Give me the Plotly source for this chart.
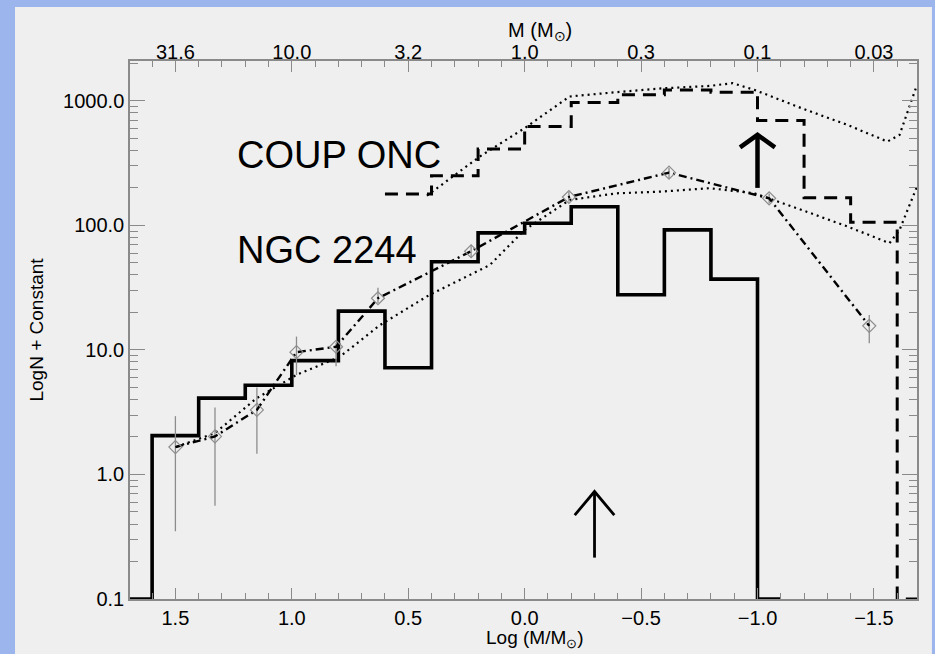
import numpy as np
import plotly.graph_objects as go

# ---------------- data ----------------
# NGC 2244 histogram (solid): bin left edges in log(M/Msun), counts
ngc_edges = [1.6, 1.4, 1.2, 1.0, 0.8, 0.6, 0.4, 0.2, 0.0, -0.2, -0.4, -0.6, -0.8]
ngc_counts = [2.05, 4.1, 5.2, 8.2, 20.5, 7.2, 51, 87, 104, 141, 27.7, 92, 37]

# COUP ONC histogram (dashed)
onc_edges = [0.6, 0.4, 0.2, 0.0, -0.2, -0.4, -0.6, -0.8, -1.0, -1.2, -1.4]
onc_counts = [179, 250, 411, 622, 968, 1117, 1225, 1175, 695, 167, 106]

# model curve for ONC (upper dotted)
onc_model_x = [0.42, 0.193, 0.0, -0.193, -0.395, -0.592, -0.794, -0.893, -0.987,
               -1.19, -1.386, -1.558, -1.61, -1.685]
onc_model_y = [173, 357, 604, 1084, 1175, 1260, 1318, 1387, 1225,
               872, 641, 471, 533, 1343]

# model curve for NGC 2244 (lower dotted)
ngc_model_x = [1.495, 1.33, 1.151, 0.98, 0.794, 0.622, 0.408, 0.15, 0.0, -0.193,
               -0.395, -0.592, -0.794, -0.987, -1.19, -1.386, -1.567, -1.61, -1.685]
ngc_model_y = [1.67, 2.15, 4.1, 6.3, 8.8, 15.8, 27.7, 48, 92, 160,
               181, 187, 199, 181, 133, 98, 72, 92, 205]

# comparison points with error bars (dash-dot, diamonds)
pts_x = [1.50, 1.33, 1.15, 0.98, 0.81, 0.63, 0.23, -0.19, -0.62, -1.05, -1.48]
pts_y = [1.66, 2.02, 3.3, 9.6, 10.6, 26, 62, 169, 265, 165, 15.6]
pts_hi = [2.94, 3.45, 5.0, 12.8, 11.4, 31.5, 70, 185, 290, 180, 19.1]
pts_lo = [0.35, 0.56, 1.47, 6.3, 7.4, 23.8, 55, 155, 240, 150, 11.3]

# arrows (x position, base value, tip value)
arrow_x = [-0.3, -1.0]
arrow_base = [0.215, 200]
arrow_tip = [0.73, 533]

# axis ticks
x_ticks = [1.5, 1.0, 0.5, 0.0, -0.5, -1.0, -1.5]
x_ticktext = ["1.5", "1.0", "0.5", "0.0", "\u22120.5", "\u22121.0", "\u22121.5"]
top_ticktext = ["31.6", "10.0", "3.2", "1.0", "0.3", "0.1", "0.03"]
y_ticks = [0.1, 1, 10, 100, 1000]
y_ticktext = ["0.1", "1.0", "10.0", "100.0", "1000.0"]

XR = [1.695, -1.685]
YR = [-1.0, 3.32]
FLOOR = 0.1

# ---------------- figure ----------------
fig = go.Figure()

# solid histogram
hx = [XR[0]] + ngc_edges + [-1.0, -1.1]
hy = [FLOOR] + ngc_counts + [FLOOR, FLOOR]
fig.add_trace(go.Scatter(x=hx, y=hy, mode="lines", line=dict(shape="hv", color="black", width=3.6),
                         hoverinfo="skip", showlegend=False))

# dashed histogram
dx = onc_edges + [-1.6, XR[1]]
dy = onc_counts + [FLOOR, FLOOR]
fig.add_trace(go.Scatter(x=dx, y=dy, mode="lines",
                         line=dict(shape="hv", color="black", width=3, dash="13px,8px"),
                         hoverinfo="skip", showlegend=False))

# dotted model curves
for mx, my in [(onc_model_x, onc_model_y), (ngc_model_x, ngc_model_y)]:
    fig.add_trace(go.Scatter(x=mx, y=my, mode="lines",
                             line=dict(color="black", width=2.2, dash="2px,4px"),
                             hoverinfo="skip", showlegend=False))

# dash-dot with diamonds and error bars
fig.add_trace(go.Scatter(
    x=pts_x, y=pts_y, mode="lines+markers",
    line=dict(color="black", width=2.4, dash="8px,4px,2px,4px"),
    marker=dict(symbol="diamond-open", size=10, color="#8c8c8c", line=dict(width=1.2)),
    error_y=dict(type="data", symmetric=False,
                 array=[h - v for h, v in zip(pts_hi, pts_y)],
                 arrayminus=[v - l for l, v in zip(pts_lo, pts_y)],
                 color="#8c8c8c", thickness=1.3, width=0),
    hoverinfo="skip", showlegend=False))

# arrows (open chevron heads)
for i, (ax_, b, t) in enumerate(zip(arrow_x, arrow_base, arrow_tip)):
    w = 4.5 if i == 1 else 2.8
    hw = 0.075 if i == 1 else 0.085
    hd = 0.1 if i == 1 else 0.19
    fig.add_trace(go.Scatter(x=[ax_, ax_], y=[b, t], mode="lines",
                             line=dict(color="black", width=w), hoverinfo="skip", showlegend=False))
    fig.add_trace(go.Scatter(x=[ax_ + hw, ax_, ax_ - hw], y=[t / 10 ** hd, t, t / 10 ** hd],
                             mode="lines", line=dict(color="black", width=w),
                             hoverinfo="skip", showlegend=False))

# invisible trace for top axis
fig.add_trace(go.Scatter(x=[0], y=[1], xaxis="x2", mode="markers", marker=dict(opacity=0),
                         hoverinfo="skip", showlegend=False))

FONT = "Liberation Sans, Arial, sans-serif"
AX = "#8a8a8a"

minor_x = [round(v, 1) for v in np.arange(-1.6, 1.65, 0.1) if round(v * 10) % 5 != 0]
minor_y = [m * 10.0 ** e for e in range(-1, 4) for m in range(2, 10)]

fig.update_layout(
    width=935, height=654,
    margin=dict(l=130, r=18, t=61, b=55),
    paper_bgcolor="#9db5ed",
    plot_bgcolor="#efefef",
    font=dict(family=FONT, color="black"),
    xaxis=dict(range=XR, tickmode="array", tickvals=x_ticks, ticktext=x_ticktext,
               ticks="inside", ticklen=11, tickwidth=1.2, tickcolor=AX,
               minor=dict(tickmode="array", tickvals=minor_x, ticks="inside", ticklen=6,
                          tickwidth=1.2, tickcolor=AX),
               showline=True, linecolor=AX, linewidth=1.5, mirror=True,
               showgrid=False, zeroline=False, ticklabelstandoff=0,
               tickfont=dict(size=20)),
    xaxis2=dict(range=XR, overlaying="x", side="top", tickmode="array", tickvals=x_ticks,
                ticktext=top_ticktext, ticks="inside", ticklen=11, tickwidth=1.2, tickcolor=AX,
                minor=dict(tickmode="array", tickvals=minor_x, ticks="inside", ticklen=6,
                           tickwidth=1.2, tickcolor=AX),
                showline=False, showgrid=False, zeroline=False, ticklabelstandoff=-3,
                tickfont=dict(size=20)),
    yaxis=dict(type="log", range=YR, tickmode="array", tickvals=y_ticks, ticktext=y_ticktext,
               ticks="inside", ticklen=15, tickwidth=1.2, tickcolor=AX,
               minor=dict(tickmode="array", tickvals=minor_y, ticks="inside", ticklen=8,
                          tickwidth=1.2, tickcolor=AX),
               showline=True, linecolor=AX, linewidth=1.5, mirror="ticks",
               showgrid=False, zeroline=False,
               tickfont=dict(size=20),
               title=dict(text="LogN + Constant", font=dict(size=19), standoff=14)),
    shapes=[dict(type="rect", xref="paper", yref="paper", x0=-0.1461, x1=1.019,
                 y0=-0.12, y1=1.1004, fillcolor="#efefef", line=dict(width=0), layer="below")],
    annotations=[
        dict(text="COUP ONC", x=1.245, y=np.log10(368), xref="x", yref="y", xanchor="left",
             yanchor="middle", showarrow=False, font=dict(size=38, family=FONT)),
        dict(text="NGC 2244", x=1.245, y=np.log10(63.5), xref="x", yref="y", xanchor="left",
             yanchor="middle", showarrow=False, font=dict(size=38, family=FONT)),
        dict(text="M (M<sub>\u2299</sub>)", x=0.521, y=1.055, xref="paper", yref="paper",
             xanchor="center", yanchor="middle", showarrow=False, font=dict(size=20, family=FONT)),
        dict(text="Log (M/M<sub>\u2299</sub>)", x=0.515, y=-0.074, xref="paper", yref="paper",
             xanchor="center", yanchor="middle", showarrow=False, font=dict(size=19, family=FONT)),
    ],
)

fig.write_html("out.html")
